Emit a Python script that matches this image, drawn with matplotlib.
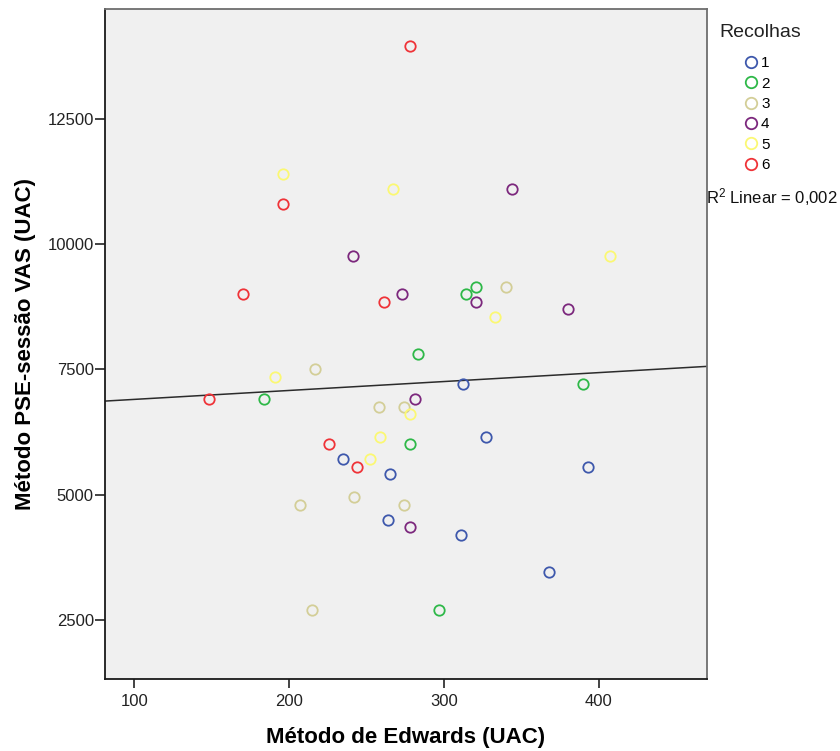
import numpy as np
import matplotlib
matplotlib.use("Agg")
import matplotlib.pyplot as plt

plt.rcParams['font.family'] = ['Liberation Sans', 'DejaVu Sans']
plt.rcParams['mathtext.fontset'] = 'custom'
plt.rcParams['mathtext.rm'] = 'Liberation Sans'
plt.rcParams['mathtext.default'] = 'regular'

# data: (Método de Edwards, Método PSE-sessão VAS) per "Recolhas" group
recolhas = ["1", "2", "3", "4", "5", "6"]
colors = ["#3E58AC", "#2EB848", "#D3CE97", "#7C287D", "#FBF873", "#EF3338"]

edwards_1 = [235, 265, 264, 312, 327, 393, 311, 368]
pse_1     = [5700, 5400, 4500, 7200, 6150, 5550, 4200, 3450]
edwards_2 = [321, 314, 184, 283, 390, 278, 297]
pse_2     = [9150, 9000, 6900, 7800, 7200, 6000, 2700]
edwards_3 = [340, 217, 258, 274, 242, 207, 274, 215]
pse_3     = [9150, 7500, 6750, 6750, 4950, 4800, 4800, 2700]
edwards_4 = [241, 273, 344, 321, 380, 281, 278]
pse_4     = [9750, 9000, 11100, 8850, 8700, 6900, 4350]
edwards_5 = [196, 267, 407, 333, 191, 259, 252, 278]
pse_5     = [11400, 11100, 9750, 8550, 7350, 6150, 5700, 6600]
edwards_6 = [196, 170, 261, 278, 148, 226, 244]
pse_6     = [10800, 9000, 8850, 13950, 6900, 6000, 5550]

edwards = [edwards_1, edwards_2, edwards_3, edwards_4, edwards_5, edwards_6]
pse = [pse_1, pse_2, pse_3, pse_4, pse_5, pse_6]

# total fit line
fit_intercept = 6720
fit_slope = 1.78
r2_text = r"R$^2$ Linear = 0,002"

x_ticks = [100, 200, 300, 400]
y_ticks = [2500, 5000, 7500, 10000, 12500]

fig = plt.figure(figsize=(8.4, 7.51), dpi=100, facecolor="white")
ax = fig.add_axes([0.125, 0.0959, 0.7167, 0.8917])
ax.set_facecolor("#F0F0F0")

handles = []
for grp, col, xs, ys in zip(recolhas, colors, edwards, pse):
    h, = ax.plot(xs, ys, linestyle="none", marker="o", ms=7.5, mfc="none",
                 mec=col, mew=1.3, label=grp, zorder=3)
    handles.append(h)

ax.axline((0, fit_intercept), slope=fit_slope, color="#2b2b2b", lw=1.1, zorder=2)

ax.set_xlim(81, 470)
ax.set_ylim(1320, 14680)
ax.set_xticks(x_ticks)
ax.set_yticks(y_ticks)
ax.tick_params(axis="x", direction="out", length=6.5, width=1.2, pad=4.5,
               labelsize=12, colors="#222222")
ax.tick_params(axis="y", direction="out", length=7, width=1.2, pad=1,
               labelsize=12, colors="#222222")

for side in ["left", "bottom"]:
    ax.spines[side].set_color("#1a1a1a")
    ax.spines[side].set_linewidth(1.3)
for side in ["top", "right"]:
    ax.spines[side].set_color("#6e6e6e")
    ax.spines[side].set_linewidth(1.3)

ax.set_xlabel("Método de Edwards (UAC)", fontsize=16, fontweight="bold")
ax.set_ylabel("Método PSE-sessão VAS (UAC)", fontsize=16, fontweight="bold")
ax.xaxis.set_label_coords(0.5, -0.0715)
ax.yaxis.set_label_coords(-0.114, 0.5)

# legend
fig.text(0.856, 0.957, "Recolhas", fontsize=14, ha="left", va="center",
         color="#222222")
fig.legend(handles=handles, loc="upper left", bbox_to_anchor=(0.886, 0.925),
           frameon=False, fontsize=11, handlelength=0.9, handletextpad=0.2,
           labelspacing=0.415, borderpad=0, borderaxespad=0, markerscale=1.1)

fig.text(0.841, 0.737, r2_text, fontsize=12, ha="left", va="center",
         color="#111111")

fig.savefig("out.png", dpi=100, facecolor="white")
